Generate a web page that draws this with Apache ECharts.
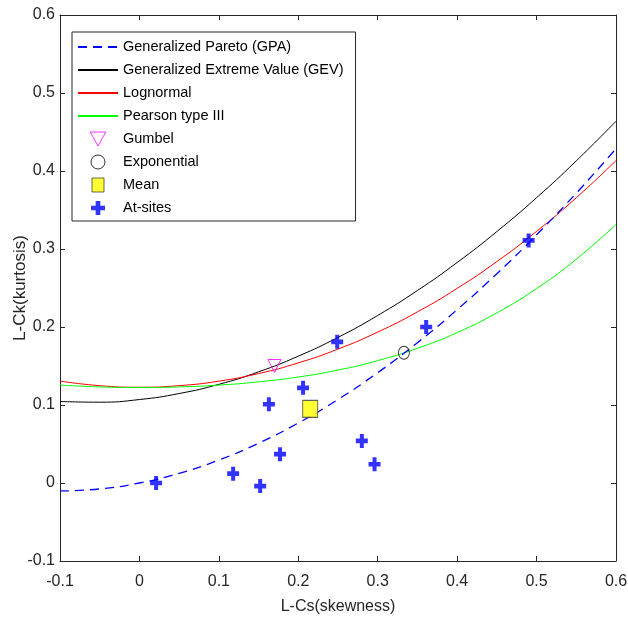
<!DOCTYPE html>
<html>
<head>
<meta charset="utf-8">
<script src="https://cdn.jsdelivr.net/npm/echarts@6/dist/echarts.min.js"></script>
<style>
  html, body { margin: 0; padding: 0; background: #fff; }
  #chart { width: 628px; height: 618px; }
</style>
</head>
<body>
<div id="chart"></div>
<script>
// L-skewness grid used to read the theoretical curves
const tauS = [-0.10, -0.05, 0.00, 0.05, 0.10, 0.15, 0.20, 0.25, 0.30, 0.35, 0.40, 0.45, 0.50, 0.55, 0.60];
// L-kurtosis
const gpaK = [-0.0102, -0.0076, 0.0000, 0.0124, 0.0294, 0.0510, 0.0769, 0.1071, 0.1415, 0.1799, 0.2222, 0.2683, 0.3182, 0.3716, 0.4286];
const gevK = [0.1045, 0.1036, 0.1070, 0.1147, 0.1265, 0.1425, 0.1626, 0.1867, 0.2148, 0.2468, 0.2827, 0.3224, 0.3658, 0.4130, 0.4638];
const lnK  = [0.1306, 0.1248, 0.1228, 0.1248, 0.1306, 0.1403, 0.1540, 0.1717, 0.1935, 0.2194, 0.2495, 0.2839, 0.3226, 0.3657, 0.4133];
const pe3K = [0.1255, 0.1232, 0.1224, 0.1232, 0.1255, 0.1297, 0.1359, 0.1448, 0.1569, 0.1727, 0.1929, 0.2182, 0.2493, 0.2869, 0.3314];

// single-point distributions
const gumbelPt = [0.170, 0.150];
const expoPt   = [0.333, 0.167];
const meanPt   = [0.215, 0.095];

// at-site sample L-moment ratios
const siteSkew = [0.021, 0.118, 0.152, 0.163, 0.177, 0.206, 0.249, 0.280, 0.296, 0.361, 0.490];
const siteKurt = [0.000, 0.012, -0.004, 0.101, 0.037, 0.122, 0.181, 0.054, 0.024, 0.200, 0.311];

// axis ticks
const xMin = -0.1, xMax = 0.6, yMin = -0.1, yMax = 0.6, tickStep = 0.1;

const names = {
  gpa: 'Generalized Pareto (GPA)',
  gev: 'Generalized Extreme Value (GEV)',
  ln: 'Lognormal',
  pe3: 'Pearson type III',
  gum: 'Gumbel',
  exp: 'Exponential',
  mean: 'Mean',
  site: 'At-sites'
};

const FONT = "'Liberation Sans', Arial, sans-serif";
const AX = '#262626';
const pair = (xs, ys) => xs.map((x, i) => [x, ys[i]]);
const PLUS = 'path://M4,0H8V4H12V8H8V12H4V8H0V4H4Z';
const TRI_DOWN = 'path://M0,0L10,0L5,9Z';
const SQUARE = 'path://M0,0H12V14H0Z';

const chart = echarts.init(document.getElementById('chart'), null, { renderer: 'canvas' });

function xAx(pos, show) {
  return {
    type: 'value', position: pos, min: xMin, max: xMax, interval: tickStep,
    axisLine: { show: true, onZero: false, lineStyle: { color: AX, width: 1 } },
    axisTick: { show: true, inside: true, length: 5, lineStyle: { color: AX } },
    axisLabel: { show: show, color: AX, fontFamily: FONT, fontSize: 16, margin: 13 },
    splitLine: { show: false },
    name: show ? 'L-Cs(skewness)' : '',
    nameLocation: 'middle', nameGap: 38, nameMoveOverlap: false,
    nameTextStyle: { color: AX, fontFamily: FONT, fontSize: 16 }
  };
}
function yAx(pos, show) {
  return {
    type: 'value', position: pos, min: yMin, max: yMax, interval: tickStep,
    axisLine: { show: true, onZero: false, lineStyle: { color: AX, width: 1 } },
    axisTick: { show: true, inside: true, length: 5, lineStyle: { color: AX } },
    axisLabel: { show: show, color: AX, fontFamily: FONT, fontSize: 16, margin: 5 },
    splitLine: { show: false },
    name: show ? 'L-Ck(kurtosis)' : '',
    nameLocation: 'middle', nameGap: 31, nameMoveOverlap: false,
    nameTextStyle: { color: AX, fontFamily: FONT, fontSize: 17 }
  };
}

const lineLegendStyle = { color: 'rgba(0,0,0,0)', borderWidth: 0 };

const option = {
  backgroundColor: '#fff',
  animation: false,
  grid: { left: 60, right: 12, top: 15, bottom: 57, containLabel: false, outerBoundsMode: 'none' },
  xAxis: [xAx('bottom', true), xAx('top', false)],
  yAxis: [yAx('left', true), yAx('right', false)],
  legend: {
    orient: 'vertical', left: 72, top: 32,
    backgroundColor: '#fff', borderColor: AX, borderWidth: 1,
    padding: [5, 12, 3, 5],
    itemWidth: 40, itemHeight: 14, itemGap: 3,
    itemStyle: { borderWidth: 1 },
    textStyle: { color: '#000', fontFamily: FONT, fontSize: 14.5, lineHeight: 20 },
    data: [
      { name: names.gpa, itemStyle: lineLegendStyle },
      { name: names.gev, itemStyle: lineLegendStyle },
      { name: names.ln, itemStyle: lineLegendStyle },
      { name: names.pe3, itemStyle: lineLegendStyle },
      names.gum, names.exp,
      { name: names.mean, icon: SQUARE },
      names.site
    ]
  },
  series: [
    {
      name: names.gpa, type: 'line', smooth: true, symbol: 'none',
      data: pair(tauS, gpaK),
      lineStyle: { color: '#0000ff', width: 1.3, type: [9, 6] },
      itemStyle: { color: '#0000ff' }, z: 3
    },
    {
      name: names.gev, type: 'line', smooth: true, symbol: 'none',
      data: pair(tauS, gevK),
      lineStyle: { color: '#000000', width: 1 },
      itemStyle: { color: '#000000' }, z: 2
    },
    {
      name: names.ln, type: 'line', smooth: true, symbol: 'none',
      data: pair(tauS, lnK),
      lineStyle: { color: '#ff0000', width: 1 },
      itemStyle: { color: '#ff0000' }, z: 2
    },
    {
      name: names.pe3, type: 'line', smooth: true, symbol: 'none',
      data: pair(tauS, pe3K),
      lineStyle: { color: '#00ff00', width: 1 },
      itemStyle: { color: '#00ff00' }, z: 2
    },
    {
      name: names.gum, type: 'scatter', symbol: TRI_DOWN, symbolSize: [13, 13],
      data: [gumbelPt],
      itemStyle: { color: 'rgba(0,0,0,0)', borderColor: '#ff00ff', borderWidth: 1 }, z: 4
    },
    {
      name: names.exp, type: 'scatter', symbol: 'circle', symbolSize: [11, 13],
      data: [expoPt],
      itemStyle: { color: 'rgba(0,0,0,0)', borderColor: '#000000', borderWidth: 1 }, z: 4
    },
    {
      name: names.mean, type: 'scatter', symbol: 'rect', symbolSize: [15, 17],
      data: [meanPt],
      itemStyle: { color: '#ffff00', borderColor: '#404040', borderWidth: 1 }, z: 4
    },
    {
      name: names.site, type: 'scatter', symbol: PLUS, symbolSize: [12, 14],
      data: pair(siteSkew, siteKurt),
      itemStyle: { color: '#0000ff' }, z: 5
    }
  ]
};

chart.setOption(option);
</script>
</body>
</html>
